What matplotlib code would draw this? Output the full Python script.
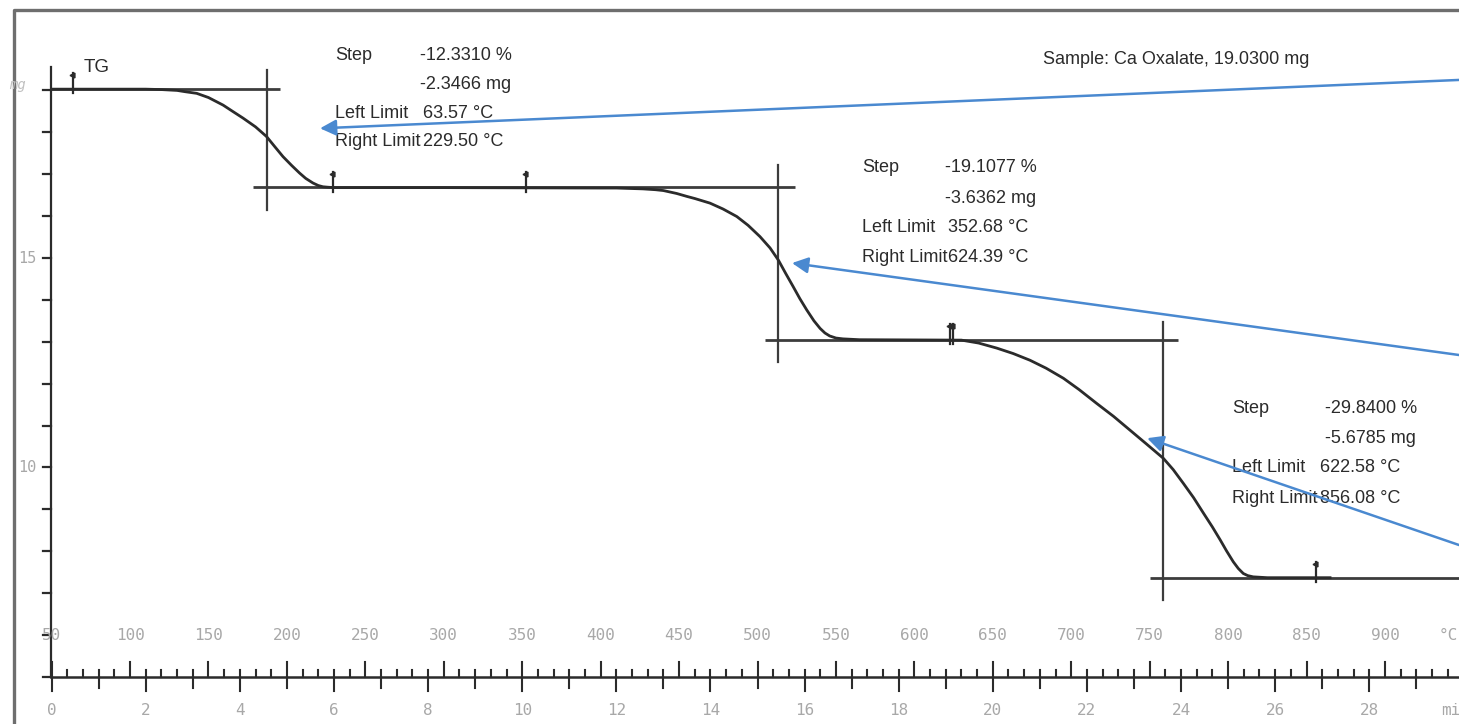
import numpy as np
import matplotlib.pyplot as plt

# TG curve of calcium oxalate (temperature in degC, mass in mg)
temp = [50, 100, 110, 120, 125, 130, 135, 142.5, 150, 159.3, 165, 172, 180, 187, 192, 197.5,
        203, 208, 212, 216.6, 220, 223, 226, 230,
        300, 400, 410, 427, 435, 440, 448.5, 455, 460, 469.7, 478, 486.8, 494, 501.6, 508,
        513.3, 518, 522.7, 527, 531.4, 536, 539.9, 543, 546, 550, 554.5, 565,
        630, 641, 652.5, 663, 673.7, 684, 695, 705, 716.2, 727, 737.5, 748, 758.7, 765,
        771.5, 778, 784.3, 790, 795, 799, 803.3, 806.5, 809.7, 812.5, 816, 825, 865]
mass = [19.03, 19.03, 19.03, 19.02, 19.01, 19.00, 18.97, 18.93, 18.83, 18.65, 18.51, 18.34,
        18.13, 17.90, 17.67, 17.42, 17.21, 17.03, 16.90, 16.79, 16.73, 16.70, 16.69, 16.68,
        16.68, 16.67, 16.67, 16.65, 16.63, 16.61, 16.54, 16.47, 16.42, 16.31, 16.17, 15.99,
        15.78, 15.51, 15.24, 14.95, 14.63, 14.32, 14.03, 13.76, 13.50, 13.32, 13.21, 13.14,
        13.09, 13.07, 13.05,
        13.04, 12.97, 12.85, 12.72, 12.56, 12.37, 12.13, 11.86, 11.53, 11.22, 10.89, 10.56,
        10.22, 9.95, 9.62, 9.28, 8.91, 8.58, 8.27, 8.01, 7.75, 7.59, 7.47, 7.42, 7.39,
        7.37, 7.37]

sample_mass = 19.03
step_pct = ["-12.3310 %", "-19.1077 %", "-29.8400 %"]
step_mg = [-2.3466, -3.6362, -5.6785]
left_limit = [63.57, 352.68, 622.58]
right_limit = [229.50, 624.39, 856.08]
inflection = [187.0, 513.1, 758.6]

# plateau levels before/after every step
levels = [sample_mass]
for d in step_mg:
    levels.append(levels[-1] + d)

ink = "#2b2b2b"
grey = "#a8a8a8"
blue = "#4a89d0"
txt_font = ["Liberation Sans", "DejaVu Sans"]
num_font = ["DejaVu Sans Mono"]
fs = 13

fig = plt.figure(figsize=(14.59, 7.24), dpi=100)
ax = fig.add_axes([0, 0, 1, 1])
ax.set_xlim(17.1, 947.2)
ax.set_ylim(3.878, 21.158)
ax.axis("off")

# outer frame (left and top edges visible)
ax.plot([0.0096, 0.0096, 1.0], [0.0, 0.986, 0.986], color="#6e6e6e", lw=2.4,
        transform=ax.transAxes, clip_on=False)

# mass axis
x0 = 49.5
ax.plot([x0, x0], [5, 19.55], color=ink, lw=1.6)
for m in range(5, 20):
    ax.plot([x0 - 5.1, x0], [m, m], color=ink, lw=1.6)
for m in (10, 15):
    ax.text(40.5, m, str(m), ha="right", va="center", fontsize=11, color=grey, family=num_font)
ax.text(28, 19.12, "mg", ha="center", va="center", fontsize=10, color="#c0c0c0",
        family=num_font, style="italic")

# temperature / time axis
ax.plot([x0, 947.2], [5, 5], color=ink, lw=1.8)
for t in np.arange(50, 941, 10):
    h = 0.36 if t % 50 == 0 else 0.17
    ax.plot([t, t], [5, 5 + h], color=ink, lw=1.5)
for mn in range(0, 30):
    t = 50 + 30 * mn
    h = 0.34 if mn % 2 == 0 else 0.27
    ax.plot([t, t], [5, 5 - h], color=ink, lw=1.5)
for t in range(50, 901, 50):
    ax.text(t, 6.0, str(t), ha="center", va="center", fontsize=11.5, color=grey, family=num_font)
ax.text(934, 6.0, "°C", ha="left", va="center", fontsize=11.5, color=grey, family=num_font)
for mn in range(0, 29, 2):
    ax.text(50 + 30 * mn, 4.21, str(mn), ha="center", va="center", fontsize=11.5,
            color=grey, family=num_font)
ax.text(936, 4.21, "min", ha="left", va="center", fontsize=11.5, color=grey, family=num_font)

# evaluation tangents and inflection verticals
h_spans = [(49.5, 195.6), (178.4, 523.8), (504.8, 768.0), (750.3, 960.0)]
for lv, (a, b) in zip(levels, h_spans):
    ax.plot([a, b], [lv, lv], color="#3c3c3c", lw=2.0, solid_capstyle="butt")
v_spans = [(16.15, 19.49), (12.52, 17.22), (6.84, 13.47)]
for ti, (lo, hi) in zip(inflection, v_spans):
    ax.plot([ti, ti], [lo, hi], color="#3c3c3c", lw=1.6)

# TG curve
ax.plot(temp, mass, color=ink, lw=2.0, solid_joinstyle="round")

# limit flags
for k in range(3):
    for lim, lv in ((left_limit[k], levels[k]), (right_limit[k], levels[k + 1])):
        ax.plot([lim, lim], [lv - 0.1, lv + 0.38], color=ink, lw=1.6)
        ax.plot(lim - 0.6, lv + 0.33, marker="<", ms=3.5, color=ink)
ax.text(70.5, 19.55, "TG", ha="left", va="center", fontsize=fs + 0.5, color=ink, family=txt_font)

# step result blocks: label column, value column, limit value column, row heights
blocks = [
    (230.7, 284.9, 286.5, [19.845, 19.13, 18.46, 17.77]),
    (566.6, 619.5, 621.5, [17.15, 16.43, 15.72, 15.02]),
    (802.4, 861.7, 858.5, [11.42, 10.70, 9.99, 9.27]),
]
for k, (xl, xv, xlim_col, rows) in enumerate(blocks):
    ax.text(xl, rows[0], "Step", ha="left", va="center", fontsize=fs, color=ink, family=txt_font)
    ax.text(xv, rows[0], step_pct[k], ha="left", va="center", fontsize=fs, color=ink, family=txt_font)
    ax.text(xv, rows[1], f"{step_mg[k]:.4f} mg", ha="left", va="center", fontsize=fs,
            color=ink, family=txt_font)
    ax.text(xl, rows[2], "Left Limit", ha="left", va="center", fontsize=fs, color=ink, family=txt_font)
    ax.text(xlim_col, rows[2], f"{left_limit[k]:.2f} °C", ha="left", va="center", fontsize=fs,
            color=ink, family=txt_font)
    ax.text(xl, rows[3], "Right Limit", ha="left", va="center", fontsize=fs, color=ink, family=txt_font)
    ax.text(xlim_col, rows[3], f"{right_limit[k]:.2f} °C", ha="left", va="center", fontsize=fs,
            color=ink, family=txt_font)

ax.text(682.0, 19.73, f"Sample: Ca Oxalate, {sample_mass:.4f} mg", ha="left", va="center",
        fontsize=fs, color=ink, family=txt_font)

# pointer arrows
arrows = [((221.1, 18.095), (947.2, 19.25)),
          ((522.0, 14.88), (947.2, 12.685)),
          ((748.4, 10.70), (947.2, 8.15))]
for head, tail in arrows:
    ax.annotate("", xy=head, xytext=tail, annotation_clip=False,
                arrowprops=dict(arrowstyle="-|>", color=blue, lw=1.8, mutation_scale=24,
                                shrinkA=0, shrinkB=0))

fig.savefig("out.png", dpi=100)
